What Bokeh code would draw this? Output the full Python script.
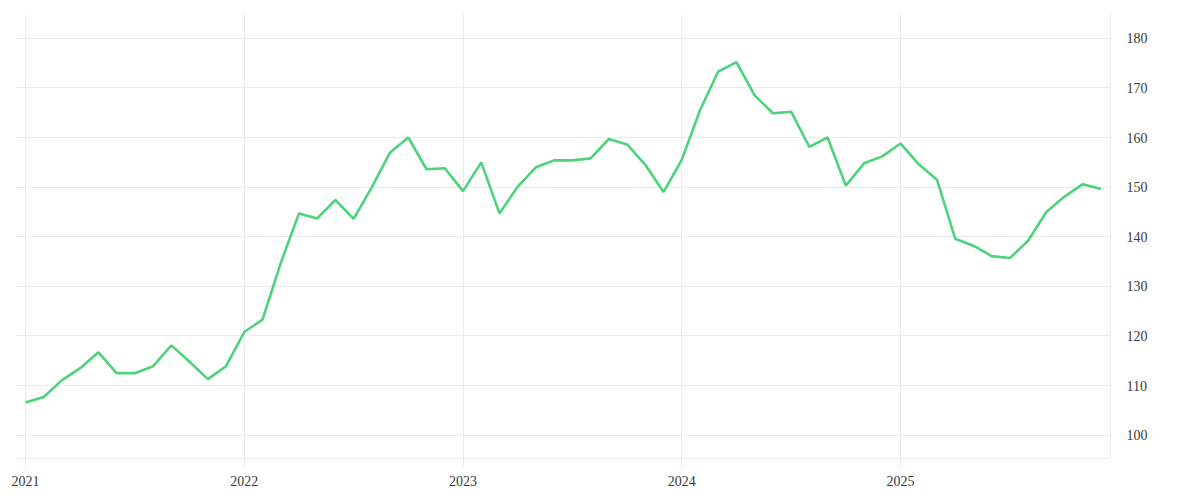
from bokeh.plotting import figure
from bokeh.models import Range1d, FixedTicker, ColumnDataSource
from bokeh.embed import file_html
from bokeh.resources import INLINE

# Monthly values, Jan 2021 .. Dec 2025
months = list(range(60))
values = [
    106.6, 107.7, 111.1, 113.5, 116.7, 112.5, 112.5, 113.9, 118.1, 114.8, 111.3, 113.9,
    120.8, 123.3, 134.7, 144.7, 143.7, 147.4, 143.6, 150.0, 157.0, 160.0, 153.6, 153.8,
    149.2, 155.0, 144.7, 150.1, 154.0, 155.4, 155.4, 155.8, 159.7, 158.6, 154.5, 149.0,
    155.5, 165.5, 173.3, 175.2, 168.5, 164.9, 165.2, 158.1, 160.0, 150.3, 154.8, 156.2,
    158.8, 154.6, 151.5, 139.6, 138.2, 136.1, 135.7, 139.2, 145.0, 148.1, 150.6, 149.6,
]
year_ticks = [0, 12, 24, 36, 48]
year_labels = ["2021", "2022", "2023", "2024", "2025"]
y_ticks = [100, 110, 120, 130, 140, 150, 160, 170, 180]

GRID = "#ebebeb"
TEXT = "#3a3a3a"
FONT = "Liberation Serif"

src = ColumnDataSource(data=dict(x=months, y=values))

p = figure(
    frame_width=1095, frame_height=446,
    x_range=Range1d(-0.55, 59.52), y_range=Range1d(95.3, 185.2),
    y_axis_location="right",
    output_backend="svg", toolbar_location=None,
    min_border_left=15, min_border_right=82, min_border_top=12, min_border_bottom=34,
)
p.outline_line_color = None
p.background_fill_color = "white"
p.border_fill_color = "white"

p.line("x", "y", source=src, line_color="#4cd37b", line_width=2.6)

xa = p.xaxis[0]
xa.ticker = FixedTicker(ticks=year_ticks)
xa.major_label_overrides = {t: l for t, l in zip(year_ticks, year_labels)}
xa.axis_line_color = GRID
xa.major_tick_line_color = GRID
xa.major_tick_in = 0
xa.major_tick_out = 10
xa.minor_tick_line_color = None
xa.major_label_standoff = 7
xa.major_label_text_font = FONT
xa.major_label_text_font_size = "14px"
xa.major_label_text_color = TEXT

ya = p.yaxis[0]
ya.ticker = FixedTicker(ticks=y_ticks)
ya.axis_line_color = GRID
ya.major_tick_line_color = None
ya.major_tick_in = 0
ya.major_tick_out = 0
ya.minor_tick_line_color = None
ya.major_label_standoff = 16
ya.major_label_text_font = FONT
ya.major_label_text_font_size = "14px"
ya.major_label_text_color = TEXT

p.xgrid.ticker = FixedTicker(ticks=year_ticks)
p.ygrid.ticker = FixedTicker(ticks=y_ticks)
p.xgrid.grid_line_color = GRID
p.ygrid.grid_line_color = GRID

open("out.html", "w").write(file_html(p, INLINE))
